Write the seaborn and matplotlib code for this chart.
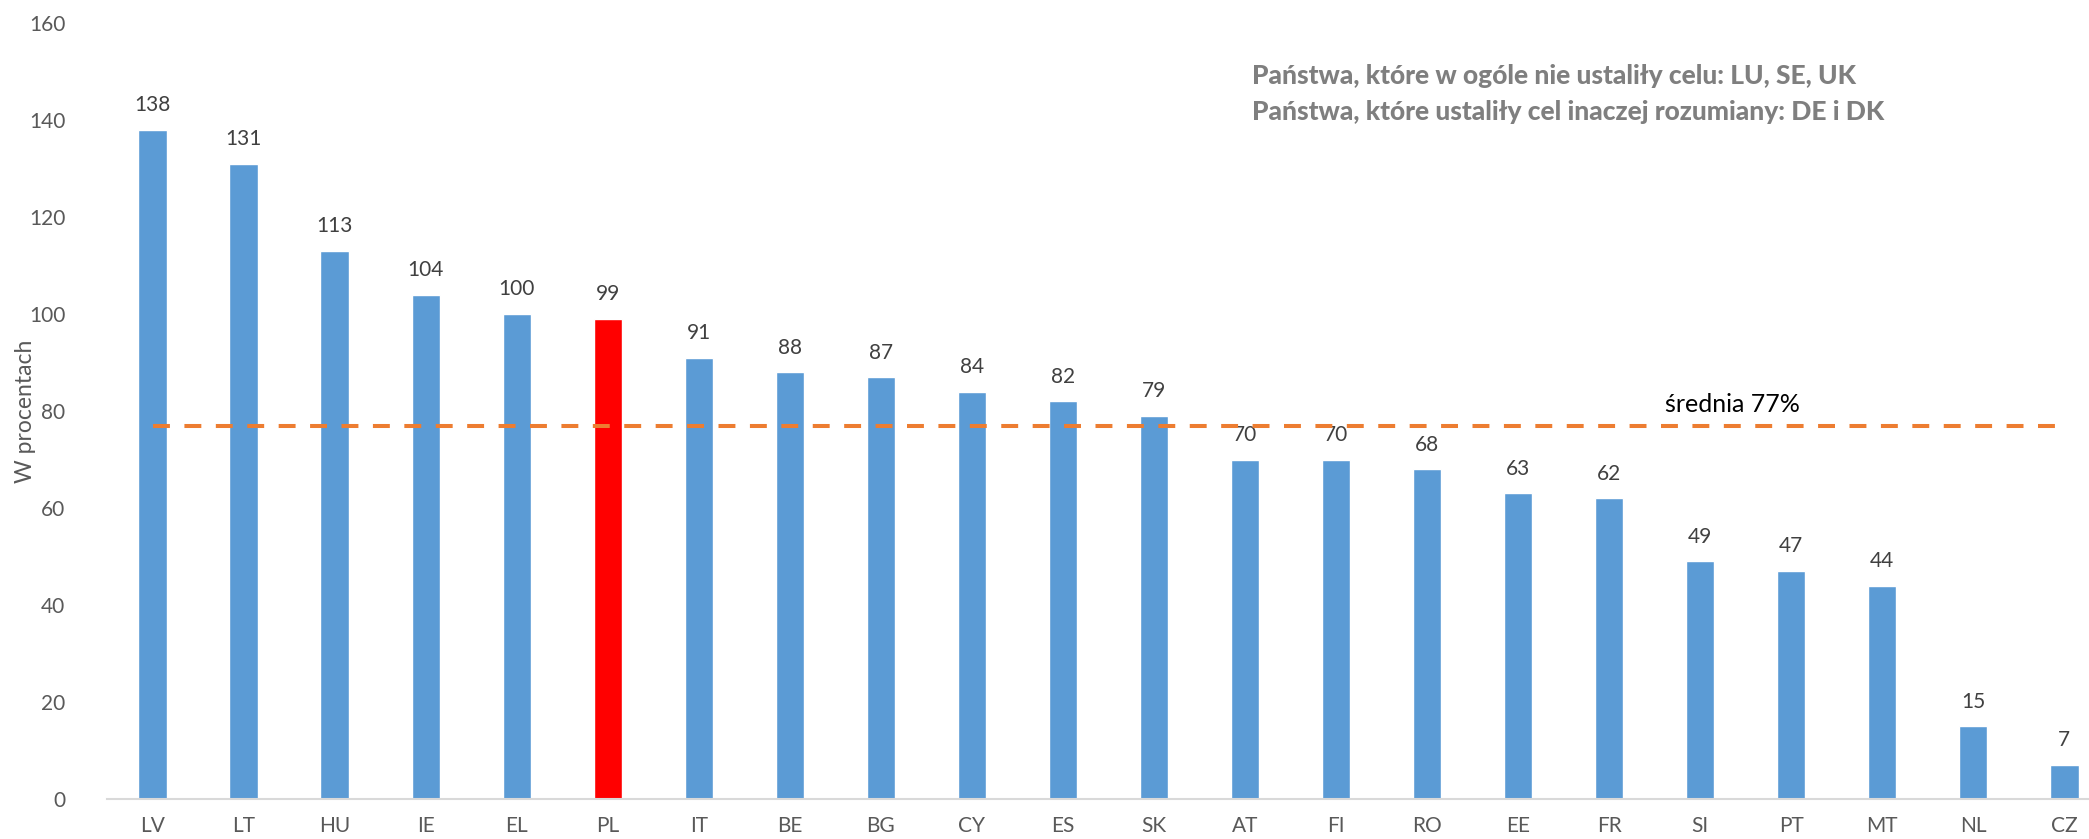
import seaborn as sns
import pandas as pd
import matplotlib.pyplot as plt

countries = ['LV', 'LT', 'HU', 'IE', 'EL', 'PL', 'IT', 'BE', 'BG', 'CY', 'ES',
             'SK', 'AT', 'FI', 'RO', 'EE', 'FR', 'SI', 'PT', 'MT', 'NL', 'CZ']
values = [138, 131, 113, 104, 100, 99, 91, 88, 87, 84, 82,
          79, 70, 70, 68, 63, 62, 49, 47, 44, 15, 7]
average = 77
highlight = 'PL'
note_lines = ['Państwa, które w ogóle nie ustaliły celu: LU, SE, UK',
              'Państwa, które ustaliły cel inaczej rozumiany: DE i DK']

sns.set_theme(style='white')
plt.rcParams['font.family'] = ['Lato', 'DejaVu Sans']

df = pd.DataFrame({'kraj': countries, 'wartosc': values})
palette = {c: ('#FF0000' if c == highlight else '#5B9BD5') for c in countries}

fig = plt.figure(figsize=(20.89, 8.39), dpi=100)
ax = fig.add_axes([107 / 2089, 1 - 799 / 839, 1 - 107 / 2089, 776 / 839])

sns.barplot(data=df, x='kraj', y='wartosc', hue='kraj', palette=palette,
            width=0.31, legend=False, ax=ax, saturation=1)

# average line across categories
ax.plot(range(len(countries)), [average] * len(countries), color='#ED7D31',
        lw=2.9, linestyle=(0, (4.2, 3.6)), solid_capstyle='butt', zorder=5)
ax.text(17.35, average + 2.0, 'średnia 77%', fontsize=18, color='#000000',
        ha='center', va='bottom')

# value labels
for i, v in enumerate(values):
    ax.text(i, v + 3, str(v), ha='center', va='bottom', fontsize=15,
            color='#404040')

ax.set_ylim(0, 160)
ax.set_xlim(-0.5, 21.27)
ax.set_yticks(range(0, 161, 20))
ax.tick_params(axis='both', labelsize=15, colors='#595959', length=0, pad=12)
ax.tick_params(axis='y', pad=30)
ax.set_xlabel('')
ax.set_ylabel('W procentach', fontsize=16.5, color='#595959', va='center')
ax.yaxis.set_label_coords(-82 / 1982, 0.5)

for s in ['top', 'right', 'left']:
    ax.spines[s].set_visible(False)
ax.spines['bottom'].set_color('#D9D9D9')
ax.spines['bottom'].set_linewidth(1.5)

for k, line in enumerate(note_lines):
    fig.text(1252 / 2089, 1 - (76 + 36 * k) / 839, line, fontsize=19,
             fontweight='black', color='#7F7F7F', ha='left', va='center')

fig.savefig('out.png', dpi=100)
